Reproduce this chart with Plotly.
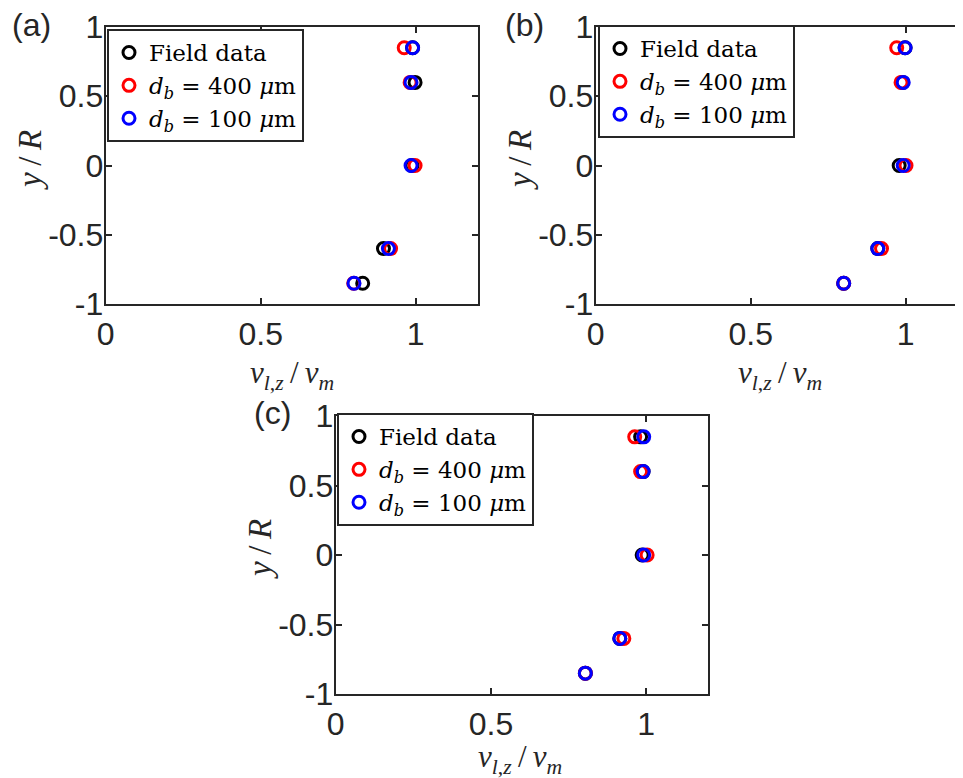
import plotly.graph_objects as go

# ---------------- data ----------------
y_pos = [0.85, 0.6, 0.0, -0.6, -0.85]

a_field = [0.990, 0.998, 0.988, 0.896, 0.829]
a_400 = [0.963, 0.982, 0.998, 0.919, 0.800]
a_100 = [0.990, 0.985, 0.985, 0.912, 0.801]

b_field = [0.998, 0.990, 0.979, 0.910, 0.800]
b_400 = [0.971, 0.985, 1.001, 0.922, 0.800]
b_100 = [0.998, 0.992, 0.992, 0.910, 0.800]

c_field = [0.982, 0.990, 0.987, 0.915, 0.804]
c_400 = [0.963, 0.982, 1.003, 0.928, 0.804]
c_100 = [0.992, 0.990, 0.992, 0.915, 0.804]

series_names = ["Field data",
                "<i>d</i><sub><i>b</i></sub> = 400 <i>μ</i>m",
                "<i>d</i><sub><i>b</i></sub> = 100 <i>μ</i>m"]
series_colors = ["#000000", "#ff0000", "#0000ff"]

x_tickvals = [0, 0.5, 1]
x_ticktext = ["0", "0.5", "1"]
y_tickvals = [-1, -0.5, 0, 0.5, 1]
y_ticktext = ["-1", "-0.5", "0", "0.5", "1"]

panel_labels = ["(a)", "(b)", "(c)"]
x_title = "<i>v</i><sub><i>l</i>,<i>z</i></sub>\u2009/\u2009<i>v</i><sub><i>m</i></sub>"
y_title = "<i>y</i>\u2009/\u2009<i>R</i>"

# ---------------- figure ----------------
W, H = 963, 778
OFF = 8  # page body margin of the html page


def xp(px):
    return (px - OFF) / W


def yp(py):
    return 1 - (py - OFF) / H


fig = go.Figure()

AX = "#262626"
sans = "Liberation Sans, Arial, Helvetica, sans-serif"
serif = "Liberation Serif, Times New Roman, serif"
legend_serif = "DejaVu Serif, serif"
tick_font = dict(family=sans, size=32, color=AX)

# screen-pixel boxes of the three axes
panels = [
    dict(data=[a_field, a_400, a_100], x0=105.7, x1=477.7, top=27, bot=304,
         legend="legend", xa="x", ya="y"),
    dict(data=[b_field, b_400, b_100], x0=595.7, x1=967.7, top=27, bot=304,
         legend="legend2", xa="x2", ya="y2"),
    dict(data=[c_field, c_400, c_100], x0=335.7, x1=708.3, top=416, bot=694,
         legend="legend3", xa="x3", ya="y3"),
]

for p in panels:
    for vals, name, col in zip(p["data"], series_names, series_colors):
        fig.add_trace(go.Scatter(
            x=vals, y=y_pos, mode="markers", name=name,
            marker=dict(symbol="circle-open", size=12, color=col,
                        line=dict(width=3, color=col)),
            xaxis=p["xa"], yaxis=p["ya"], legend=p["legend"],
            cliponaxis=False,
        ))

layout = dict(width=W, height=H, margin=dict(l=0, r=0, t=0, b=0, autoexpand=False),
              paper_bgcolor="white", plot_bgcolor="white", showlegend=True)

for i, p in enumerate(panels):
    sfx = "" if i == 0 else str(i + 1)
    layout["xaxis" + sfx] = dict(
        domain=[xp(p["x0"]), min(1.0, xp(p["x1"]))], range=[0, 1.2],
        anchor="y" + sfx, tickvals=x_tickvals, ticktext=x_ticktext,
        showline=True, linecolor=AX, linewidth=2, mirror="ticks",
        ticks="inside", ticklen=6, tickwidth=1.5, tickcolor=AX,
        showgrid=False, zeroline=False, tickfont=tick_font, ticklabelstandoff=1,
        automargin=False, fixedrange=True,
    )
    layout["yaxis" + sfx] = dict(
        domain=[yp(p["bot"]), yp(p["top"])], range=[-1, 1],
        anchor="x" + sfx, tickvals=y_tickvals, ticktext=y_ticktext,
        showline=True, linecolor=AX, linewidth=2, mirror="ticks",
        ticks="inside", ticklen=6, tickwidth=1.5, tickcolor=AX,
        showgrid=False, zeroline=False, tickfont=tick_font, ticklabelstandoff=-6,
        automargin=False, fixedrange=True,
    )

legend_pos = [(107, 29), (598, 25), (337, 413)]
for i, (lx, ly) in enumerate(legend_pos):
    key = "legend" if i == 0 else "legend" + str(i + 1)
    layout[key] = dict(
        x=xp(lx), y=yp(ly), xanchor="left", yanchor="top",
        bgcolor="white", bordercolor=AX, borderwidth=2,
        font=dict(family=legend_serif, size=23, color="#000000"),
        tracegroupgap=0,
    )

annotations = []
label_pos = [(31, 25), (524, 25), (272, 413)]
for txt, (lx, ly) in zip(panel_labels, label_pos):
    annotations.append(dict(text=txt, x=xp(lx), y=yp(ly), xref="paper", yref="paper",
                            showarrow=False, xanchor="center", yanchor="middle",
                            font=dict(family=sans, size=32, color=AX)))

xlab_pos = [(291.7, 375), (780, 375), (520, 759)]
ylab_pos = [(30, 160), (520, 160), (260, 549)]
for (lx, ly) in xlab_pos:
    annotations.append(dict(text=x_title, x=xp(lx), y=yp(ly), xref="paper", yref="paper",
                            showarrow=False, xanchor="center", yanchor="middle",
                            font=dict(family=serif, size=31, color=AX)))
for (lx, ly) in ylab_pos:
    annotations.append(dict(text=y_title, x=xp(lx), y=yp(ly), xref="paper", yref="paper",
                            showarrow=False, xanchor="center", yanchor="middle", textangle=-90,
                            font=dict(family=serif, size=33, color=AX)))
layout["annotations"] = annotations

fig.update_layout(**layout)
fig.write_html("out.html")
